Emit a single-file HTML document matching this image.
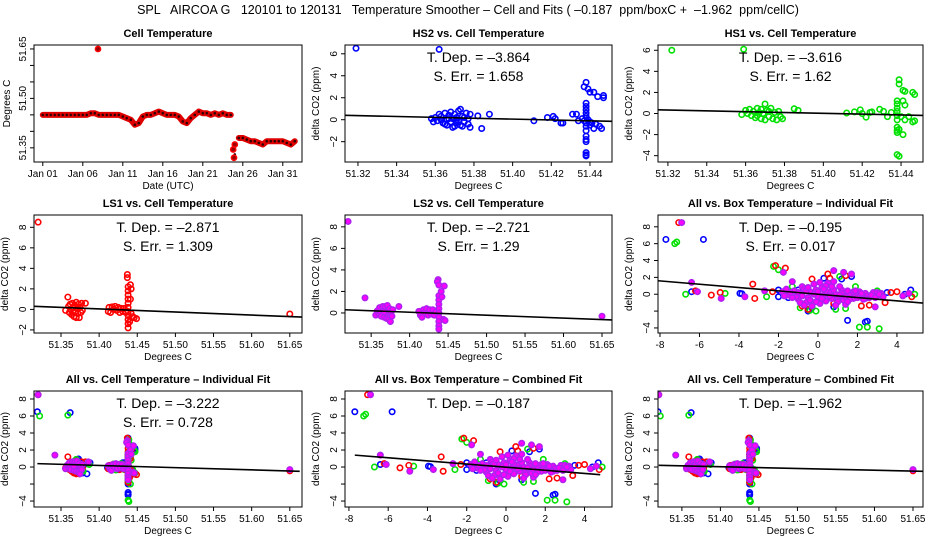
<!DOCTYPE html>
<html><head><meta charset="utf-8"><style>
html,body{margin:0;padding:0;background:#fff}
svg{display:block;font-family:"Liberation Sans",sans-serif}
</style></head><body>
<svg id="chart" width="936" height="540" viewBox="0 0 936 540" xmlns="http://www.w3.org/2000/svg">
<rect width="936" height="540" fill="#fff"/>
<text x="468" y="14" text-anchor="middle" font-size="12.5" xml:space="preserve">SPL   AIRCOA G   120101 to 120131   Temperature Smoother – Cell and Fits ( –0.187  ppm/boxC +  –1.962  ppm/cellC)</text>
</svg>
<script>
// ---- data ----
const tempStart = 0, tempStep = 0.5;
const tempVals = [51.45,51.45,51.45,51.45,51.45,51.45,51.45,51.45,51.45,51.45,51.45,51.45,51.455,51.455,51.45,51.45,51.45,51.45,51.45,51.45,
51.445,51.44,51.435,51.42,51.425,51.445,51.45,51.45,51.455,51.46,51.455,51.45,51.45,51.45,51.445,51.43,51.425,51.44,51.45,51.46,
51.455,51.455,51.45,51.455,51.45,51.455,51.45,51.45,
51.33,51.38,51.38,51.375,51.37,51.37,51.365,51.36,51.37,51.37,51.37,51.37,51.37,51.365,51.36,51.37];
const tempExtra = [[6.9,51.65],[23.9,51.32],[24,51.36],[23.8,51.345]];
const dayTicks = [0,5,10,15,20,25,30];
const dayLabels = ["Jan 01","Jan 06","Jan 11","Jan 16","Jan 21","Jan 26","Jan 31"];

const hs2Cell = [[51.319,6.5],[51.362,6.4],[51.358,0.1],[51.359,-0.2],[51.36,0.2],[51.361,-0.1],[51.362,0.5],[51.363,0.3],[51.364,-0.3],[51.365,0.6],[51.366,0.0],[51.366,-0.5],[51.367,0.4],[51.368,-0.2],[51.368,0.7],[51.369,0.1],[51.37,-0.6],[51.37,0.5],[51.371,-0.3],[51.371,0.2],[51.372,0.8],[51.372,-0.1],[51.373,0.95],[51.373,-0.5],[51.374,0.3],[51.375,-0.2],[51.376,0.6],[51.377,0.1],[51.377,-0.4],[51.378,-0.7],[51.378,0.5],[51.365,-0.4],[51.369,-0.7],[51.374,-0.6],[51.367,0.1],[51.371,0.0],[51.375,0.2],[51.363,0.0],
[51.382,0.35],[51.384,-0.8],[51.388,0.5],[51.411,-0.1],[51.418,0.2],[51.421,0.3],[51.422,0.1],[51.425,-0.3],[51.426,-0.3],[51.431,0.5],[51.433,0.5],[51.434,-0.1],
[51.438,1.5],[51.438,1.2],[51.438,0.9],[51.438,0.6],[51.438,0.3],[51.438,-0.3],[51.438,-0.6],[51.438,-1.0],[51.438,-1.5],[51.438,-1.8],[51.438,-2.0],[51.438,-3.0],[51.438,-3.2],[51.438,-3.3],[51.437,3.0],[51.438,3.4],[51.439,2.8],[51.44,2.5],[51.44,-0.2],[51.44,-0.5],[51.442,-0.8],[51.442,2.5],[51.444,2.1],[51.446,-0.8],[51.447,2.0],[51.447,2.2],[51.436,0.1],[51.441,-0.3],[51.443,-0.4],[51.445,-0.6],[51.439,0.0],[51.437,-0.1]];
const hs1Cell = [[51.322,6.0],[51.359,6.1],[51.358,-0.1],[51.36,0.3],[51.361,0.0],[51.362,0.4],[51.363,-0.2],[51.364,0.2],[51.365,-0.4],[51.366,0.5],[51.367,0.1],[51.368,-0.5],[51.368,0.4],[51.369,0.0],[51.37,-0.6],[51.37,0.9],[51.371,0.3],[51.372,-0.3],[51.373,0.5],[51.374,-0.5],[51.375,0.1],[51.376,-0.6],[51.377,0.2],[51.378,-0.3],[51.379,-0.5],[51.366,-0.2],[51.372,0.2],
[51.385,0.45],[51.387,0.3],[51.412,0.05],[51.416,0.15],[51.419,0.35],[51.42,0.0],[51.422,-0.35],[51.424,0.1],[51.425,0.15],[51.429,0.4],[51.431,0.2],[51.433,-0.3],[51.435,0.1],
[51.438,1.2],[51.438,0.9],[51.438,0.5],[51.438,0.2],[51.438,-0.2],[51.438,-0.6],[51.438,-1.3],[51.438,-1.6],[51.438,-1.8],[51.439,-1.5],[51.439,3.2],[51.439,2.8],[51.438,-3.9],[51.439,-4.05],[51.441,1.2],[51.442,0.8],[51.441,-2.0],[51.441,2.2],[51.442,2.1],[51.444,-0.3],[51.446,2.0],[51.447,1.8],[51.446,-0.8],[51.447,-0.7],[51.442,-0.6],[51.44,-0.3]];
const ls1Cell = [[51.32,8.5],[51.359,1.2],[51.356,-0.1],[51.36,0.3],[51.361,-0.3],[51.362,0.5],[51.363,0.0],[51.364,-0.5],[51.365,0.6],[51.366,0.2],[51.367,-0.7],[51.368,0.4],[51.369,-0.2],[51.37,0.7],[51.37,-0.8],[51.371,0.1],[51.372,-0.4],[51.373,0.5],[51.374,-0.8],[51.375,0.2],[51.376,-0.3],[51.377,0.6],[51.378,-0.1],[51.382,0.6],[51.366,-0.3],[51.372,0.1],
[51.413,0.2],[51.412,-0.2],[51.415,-0.3],[51.417,0.25],[51.419,0.0],[51.421,0.3],[51.423,-0.1],[51.425,0.2],[51.427,-0.3],[51.429,0.1],[51.431,-0.2],[51.433,0.1],[51.435,-0.3],
[51.437,3.4],[51.437,3.1],[51.438,2.2],[51.438,1.8],[51.438,1.4],[51.438,1.0],[51.438,0.6],[51.438,0.2],[51.438,-0.2],[51.438,-0.6],[51.438,-1.0],[51.438,-1.4],[51.438,-1.8],[51.441,2.4],[51.442,2.0],[51.441,1.0],[51.442,-0.4],[51.444,-0.7],[51.446,-0.8],[51.449,-0.9],[51.44,-1.2],[51.65,-0.45]];
const ls2Cell = [[51.32,8.5],[51.342,1.4],[51.356,-0.2],[51.358,0.2],[51.36,-0.1],[51.361,0.5],[51.362,0.1],[51.363,-0.3],[51.365,0.6],[51.366,0.2],[51.367,-0.4],[51.368,0.6],[51.369,0.0],[51.37,-0.5],[51.371,0.7],[51.372,0.2],[51.373,-0.6],[51.374,0.4],[51.375,-0.8],[51.376,0.1],[51.377,-0.3],[51.378,0.3],[51.386,0.6],[51.367,0.1],
[51.412,0.15],[51.414,-0.2],[51.416,-0.4],[51.418,0.3],[51.42,0.0],[51.422,0.4],[51.424,-0.2],[51.426,0.3],[51.428,-0.1],[51.43,0.3],[51.432,-0.2],[51.434,0.1],
[51.437,3.1],[51.436,2.9],[51.438,2.6],[51.438,1.6],[51.438,1.2],[51.438,0.8],[51.438,0.4],[51.438,0.0],[51.438,-0.4],[51.438,-0.8],[51.438,-1.2],[51.438,-1.5],[51.441,2.0],[51.442,1.5],[51.445,2.5],[51.444,-0.6],[51.446,-0.7],[51.65,-0.3]];

const hs2Box = [[-7.7,6.5],[-5.8,6.5],[-6.4,0.3],[-3.95,0.1],[-3.85,0.05],[-2.0,0.5],[-2.0,-0.3],[1.5,-3.1],[2.4,-3.3],[2.5,-3.2],[4.4,0.0],[4.7,0.5],[-0.5,-2.0],[0.8,-1.5],[1.2,1.8],[1.7,2.1],[-1.0,0.5],[0.5,-0.5],[3.5,0.2],[-0.3,-1.6],[0.3,1.9],[2.6,-0.2],[-1.5,-0.4]];
const hs1Box = [[-7.25,6.0],[-7.15,6.2],[-6.7,0.0],[-4.7,0.1],[-2.25,3.3],[-2.0,2.9],[-2.6,-0.3],[2.1,-3.9],[2.5,-3.9],[3.1,-4.1],[1.9,0.9],[1.1,2.1],[-0.1,-2.0],[-1.3,0.9],[4.9,0.0],[0.9,-1.8],[-0.9,-1.6],[1.4,-1.7],[3.0,0.4],[-0.4,-1.9]];
const ls1Box = [[-7.05,8.5],[-6.2,0.4],[-5.4,-0.1],[-4.95,0.2],[-3.3,1.2],[-3.2,-0.5],[-2.15,3.4],[-1.65,3.1],[-0.8,-1.4],[-0.3,1.8],[0.5,2.4],[1.4,2.2],[2.2,-1.4],[3.4,-1.0],[3.7,0.2],[4.0,0.3],[4.75,-0.3],[0.6,1.9],[-0.5,-1.8],[0.8,-1.1],[-2.3,0.3],[1.0,-0.9],[2.6,-1.3]];
const ls2Box = [[-6.9,8.5],[-6.4,1.4],[-6.1,0.3],[-4.9,-0.5],[-3.7,-0.3],[-2.7,0.4],[-1.75,2.6],[-1.3,1.5],[0.8,2.8],[1.3,2.6],[1.7,2.4],[2.9,-1.5],[4.3,-0.2],[4.6,0.1],
[-1.8,0.3],[-1.5,-0.1],[-1.2,0.4],[-1.0,-0.6],[-0.8,0.9],[-0.6,-1.0],[-0.4,0.3],[-0.2,1.2],[0.0,-0.3],[0.2,0.8],[0.4,-0.8],[0.6,0.2],[0.8,1.5],[1.0,-0.4],[1.2,0.5],[1.4,-1.2],[1.6,0.1],[1.8,-0.5],[2.0,0.2],[2.2,-0.3],[2.4,0.1],[2.6,-0.4],[2.8,0.2],[3.0,-0.2],[3.2,0.1],
[-0.9,0.0],[-0.5,-0.4],[-0.1,0.5],[0.3,-0.1],[0.7,-0.5],[1.1,0.9],[1.5,0.4],[-0.3,-1.4],[0.5,1.3],[-0.7,0.6],[0.1,-1.1],[0.9,0.0],[1.9,-0.1],[2.5,-0.2],[-1.4,0.2],[-1.1,-0.3],[0.4,0.4],[1.3,-0.7],[2.1,0.3],
[-1.6,0.6],[-1.3,-0.4],[-1.0,0.2],[-0.8,-0.2],[-0.6,0.4],[-0.4,-0.7],[-0.2,0.0],[0.0,0.3],[0.2,-0.5],[0.4,1.0],[0.6,-0.2],[0.8,0.5],[1.0,-0.9],[1.2,0.1],[1.4,-0.3],[1.6,-0.6],[1.8,0.3],[2.0,-0.4],[2.2,0.1],[2.4,-0.5],[2.7,-0.1],[3.0,0.2],[3.3,-0.3],
[-0.9,-1.0],[-0.5,0.8],[-0.1,-0.9],[0.3,0.6],[0.7,0.9],[1.1,-0.1],[1.5,-0.9],[1.9,0.4],[2.3,-0.6],[-0.7,-1.3],[0.1,1.4],[0.9,-1.3],[-1.7,-0.2],[2.9,-0.4],[3.1,0.0]];

const fitX_hs2=[51.3133,51.4514], fitY_hs2=[0.4,-0.15];
const fitX_hs1=[51.3149,51.4513], fitY_hs1=[0.35,-0.18];
const fitX_ls1=[51.3146,51.666], fitY_ls1=[0.3,-0.75];
const fitX_ls2=[51.316,51.663], fitY_ls2=[0.3,-0.65];
const fitX_boxI=[-8.1,5.32], fitY_boxI=[1.6,-1.05];
const fitX_cellI=[51.319,51.663], fitY_cellI=[0.4,-0.5];
const fitX_boxC=[-7.7,4.8], fitY_boxC=[1.4,-0.9];
const fitX_cellC=[51.32,51.663], fitY_cellC=[0.2,-0.5];

const cellTicks2 = [51.32,51.34,51.36,51.38,51.40,51.42,51.44];
const cellTicks5 = [51.35,51.40,51.45,51.50,51.55,51.60,51.65];
const boxTicks = [-8,-6,-4,-2,0,2,4];

// ---- drawing ----
const svg = document.getElementById('chart');
const NS = 'http://www.w3.org/2000/svg';
function mk(tag, attrs, parent){const e=document.createElementNS(NS,tag);for(const k in attrs)e.setAttribute(k,attrs[k]);(parent||svg).appendChild(e);return e;}
const COL={hs2:'#0000ff',hs1:'#00e000',ls1:'#ff0000',ls2:'#b020f0'};

function panel(cfg){
  const g=mk('g',{});
  
  
  const [L,T,R,B]=cfg.box;
  const sx=v=>L+(v-cfg.xr[0])/(cfg.xr[1]-cfg.xr[0])*(R-L);
  const sy=v=>B-(v-cfg.yr[0])/(cfg.yr[1]-cfg.yr[0])*(B-T);
  const t=mk('text',{x:(L+R)/2,y:T-8,'text-anchor':'middle','font-size':11,'font-weight':'bold'},g);
  t.textContent=cfg.title;
  
  
  cfg.xt.forEach((v,i)=>{
    const x=sx(v);
    mk('line',{x1:x,x2:x,y1:B,y2:B+4,stroke:'#000'},g);
    const tl=mk('text',{x:x,y:B+15,'text-anchor':'middle','font-size':10},g);
    tl.textContent=cfg.xl?cfg.xl[i]:v.toFixed(cfg.xd);
    
    
  });
  mk('line',{x1:sx(cfg.xt[0]),x2:sx(cfg.xt[cfg.xt.length-1]),y1:B,y2:B,stroke:'#000'},g);
  cfg.yt.forEach(v=>{
    const y=sy(v);
    mk('line',{x1:L,x2:L-4,y1:y,y2:y,stroke:'#000'},g);
    if(cfg.yskip && cfg.yskip.includes(v)) return;
    const tl=mk('text',{x:L-8,y:y,'text-anchor':'middle','font-size':10,transform:`rotate(-90 ${L-8} ${y})`},g);
    tl.textContent=cfg.yd?v.toFixed(cfg.yd):String(v).replace('-','\u2212');
    
    
  });
  mk('line',{x1:L,x2:L,y1:sy(cfg.yt[0]),y2:sy(cfg.yt[cfg.yt.length-1]),stroke:'#000'},g);
  const xl=mk('text',{x:(L+R)/2,y:B+27,'text-anchor':'middle','font-size':10},g);
  xl.textContent=cfg.xlab;
  
  
  const yx=cfg.ylabX||L-26;
  const yl=mk('text',{x:yx,y:(T+B)/2,'text-anchor':'middle','font-size':10,transform:`rotate(-90 ${yx} ${(T+B)/2})`},g);
  yl.textContent=cfg.ylab;
  
  
  const clip='c'+cfg.name;
  const cp=mk('clipPath',{id:clip},g); mk('rect',{x:L,y:T,width:R-L,height:B-T},cp);
  const pg=mk('g',{'clip-path':`url(#${clip})`},g);
  (cfg.series||[]).forEach(s=>{
    s.pts.forEach(p=>{
      const c=mk('circle',{cx:sx(p[0]),cy:sy(p[1]),r:2.7,fill:s.fill||'none',stroke:s.col,'stroke-width':1.6},pg);
      
      
    });
  });
  if(cfg.fit){
    const fl=mk('line',{x1:sx(cfg.fit[0][0]),y1:sy(cfg.fit[1][0]),x2:sx(cfg.fit[0][1]),y2:sy(cfg.fit[1][1]),stroke:'#000','stroke-width':1.6},pg);
    
    
  }
  if(cfg.extra) cfg.extra(pg,sx,sy);
  mk('rect',{x:L,y:T,width:R-L,height:B-T,fill:'none',stroke:'#000','stroke-width':1},g);
  (cfg.notes||[]).forEach((n,i)=>{
    const tn=mk('text',{x:(L+R)/2,y:T+17+i*19,'text-anchor':'middle','font-size':14},g);
    tn.setAttribute('xml:space','preserve');
    tn.textContent=n;
    
    
  });
}

const X1=[34,302],X2=[345,612],X3=[658,923];
const R1=[45,162],R2=[215,333],R3=[391,507];
const allCell=[{key:'hs2',col:COL.hs2,pts:hs2Cell},{key:'hs1',col:COL.hs1,pts:hs1Cell},{key:'ls1',col:COL.ls1,pts:ls1Cell},{key:'ls2',col:COL.ls2,pts:ls2Cell,fill:'#ff00ff'}];
const allBox=[{key:'hs2',col:COL.hs2,pts:hs2Box},{key:'hs1',col:COL.hs1,pts:hs1Box},{key:'ls1',col:COL.ls1,pts:ls1Box},{key:'ls2',col:COL.ls2,pts:ls2Box,fill:'#ff00ff'}];

panel({name:'cell-temperature-panel',title:'Cell Temperature',box:[X1[0],R1[0],X1[1],R1[1]],xr:[-1.1,32.4],yr:[51.307,51.662],
 xt:dayTicks,xl:dayLabels,yt:[51.35,51.40,51.45,51.50,51.55,51.60,51.65],yd:2,yskip:[51.40,51.45,51.55,51.60],xlab:'Date (UTC)',ylab:'Degrees C',ylabX:10,
 extra:(pg,sx,sy)=>{
   const seg1=tempVals.slice(0,48).map((v,i)=>sx(tempStart+i*tempStep)+','+sy(v)).join(' ');
   const seg2=tempVals.slice(49).map((v,i)=>sx(tempStart+(i+49)*tempStep)+','+sy(v)).join(' ');
   [seg1,seg2].forEach(s=>{const pl=mk('polyline',{points:s,fill:'none',stroke:'#e00000','stroke-width':6,'stroke-linejoin':'round','stroke-linecap':'round'},pg);
     
     });
   tempVals.forEach((v,i)=>{const c=mk('circle',{cx:sx(tempStart+i*tempStep),cy:sy(v),r:1.3,fill:'#300',stroke:'none'},pg);
     
     });
   tempExtra.forEach(p=>{const c=mk('circle',{cx:sx(p[0]),cy:sy(p[1]),r:2.6,fill:'#900',stroke:'#f00','stroke-width':1.5},pg);
     
     });
 }});
panel({name:'hs2-panel',title:'HS2 vs. Cell Temperature',box:[X2[0],R1[0],X2[1],R1[1]],xr:[51.3133,51.4514],yr:[-3.85,6.8],xt:cellTicks2,xd:2,yt:[-2,0,2,4,6],
 xlab:'Degrees C',ylab:'delta CO2 (ppm)',series:[{key:'hs2',col:COL.hs2,pts:hs2Cell}],fit:[fitX_hs2,fitY_hs2],notes:['T. Dep. =  \u20133.864','S. Err. =  1.658']});
panel({name:'hs1-panel',title:'HS1 vs. Cell Temperature',box:[X3[0],R1[0],X3[1],R1[1]],xr:[51.3149,51.4513],yr:[-4.6,6.5],xt:cellTicks2,xd:2,yt:[-4,-2,0,2,4,6],
 xlab:'Degrees C',ylab:'delta CO2 (ppm)',series:[{key:'hs1',col:COL.hs1,pts:hs1Cell}],fit:[fitX_hs1,fitY_hs1],notes:['T. Dep. =  \u20133.616','S. Err. =  1.62']});
panel({name:'ls1-panel',title:'LS1 vs. Cell Temperature',box:[X1[0],R2[0],X1[1],R2[1]],xr:[51.3146,51.666],yr:[-2.3,9.2],xt:cellTicks5,xd:2,yt:[-2,0,2,4,6,8],
 xlab:'Degrees C',ylab:'delta CO2 (ppm)',series:[{key:'ls1',col:COL.ls1,pts:ls1Cell}],fit:[fitX_ls1,fitY_ls1],notes:['T. Dep. =  \u20132.871','S. Err. =  1.309']});
panel({name:'ls2-panel',title:'LS2 vs. Cell Temperature',box:[X2[0],R2[0],X2[1],R2[1]],xr:[51.316,51.663],yr:[-1.86,9.1],xt:cellTicks5,xd:2,yt:[0,2,4,6,8],
 xlab:'Degrees C',ylab:'delta CO2 (ppm)',series:[{key:'ls2',col:COL.ls2,pts:ls2Cell,fill:'#ff00ff'}],fit:[fitX_ls2,fitY_ls2],notes:['T. Dep. =  \u20132.721','S. Err. =  1.29']});
panel({name:'all-box-individual-panel',title:'All vs. Box Temperature \u2013 Individual Fit',box:[X3[0],R2[0],X3[1],R2[1]],xr:[-8.1,5.32],yr:[-4.6,9.4],xt:boxTicks,yt:[-4,-2,0,2,4,6,8],yskip:[-2],
 xlab:'Degrees C',ylab:'delta CO2 (ppm)',series:allBox,fit:[fitX_boxI,fitY_boxI],notes:['T. Dep. =  \u20130.195','S. Err. =  0.017']});
panel({name:'all-cell-individual-panel',title:'All vs. Cell Temperature \u2013 Individual Fit',box:[X1[0],R3[0],X1[1],R3[1]],xr:[51.3146,51.666],yr:[-4.7,8.94],xt:cellTicks5,xd:2,yt:[-4,-2,0,2,4,6,8],yskip:[-2],
 xlab:'Degrees C',ylab:'delta CO2 (ppm)',series:allCell,fit:[fitX_cellI,fitY_cellI],notes:['T. Dep. =  \u20133.222','S. Err. =  0.728']});
panel({name:'all-box-combined-panel',title:'All vs. Box Temperature \u2013 Combined Fit',box:[X2[0],R3[0],X2[1],R3[1]],xr:[-8.2,5.4],yr:[-4.7,8.94],xt:boxTicks,yt:[-4,-2,0,2,4,6,8],yskip:[-2],
 xlab:'Degrees C',ylab:'delta CO2 (ppm)',series:allBox,fit:[fitX_boxC,fitY_boxC],notes:['T. Dep. =  \u20130.187']});
panel({name:'all-cell-combined-panel',title:'All vs. Cell Temperature \u2013 Combined Fit',box:[X3[0],R3[0],X3[1],R3[1]],xr:[51.319,51.663],yr:[-4.7,8.94],xt:cellTicks5,xd:2,yt:[-4,-2,0,2,4,6,8],yskip:[-2],
 xlab:'Degrees C',ylab:'delta CO2 (ppm)',series:allCell,fit:[fitX_cellC,fitY_cellC],notes:['T. Dep. =  \u20131.962']});
</script>
</body></html>
